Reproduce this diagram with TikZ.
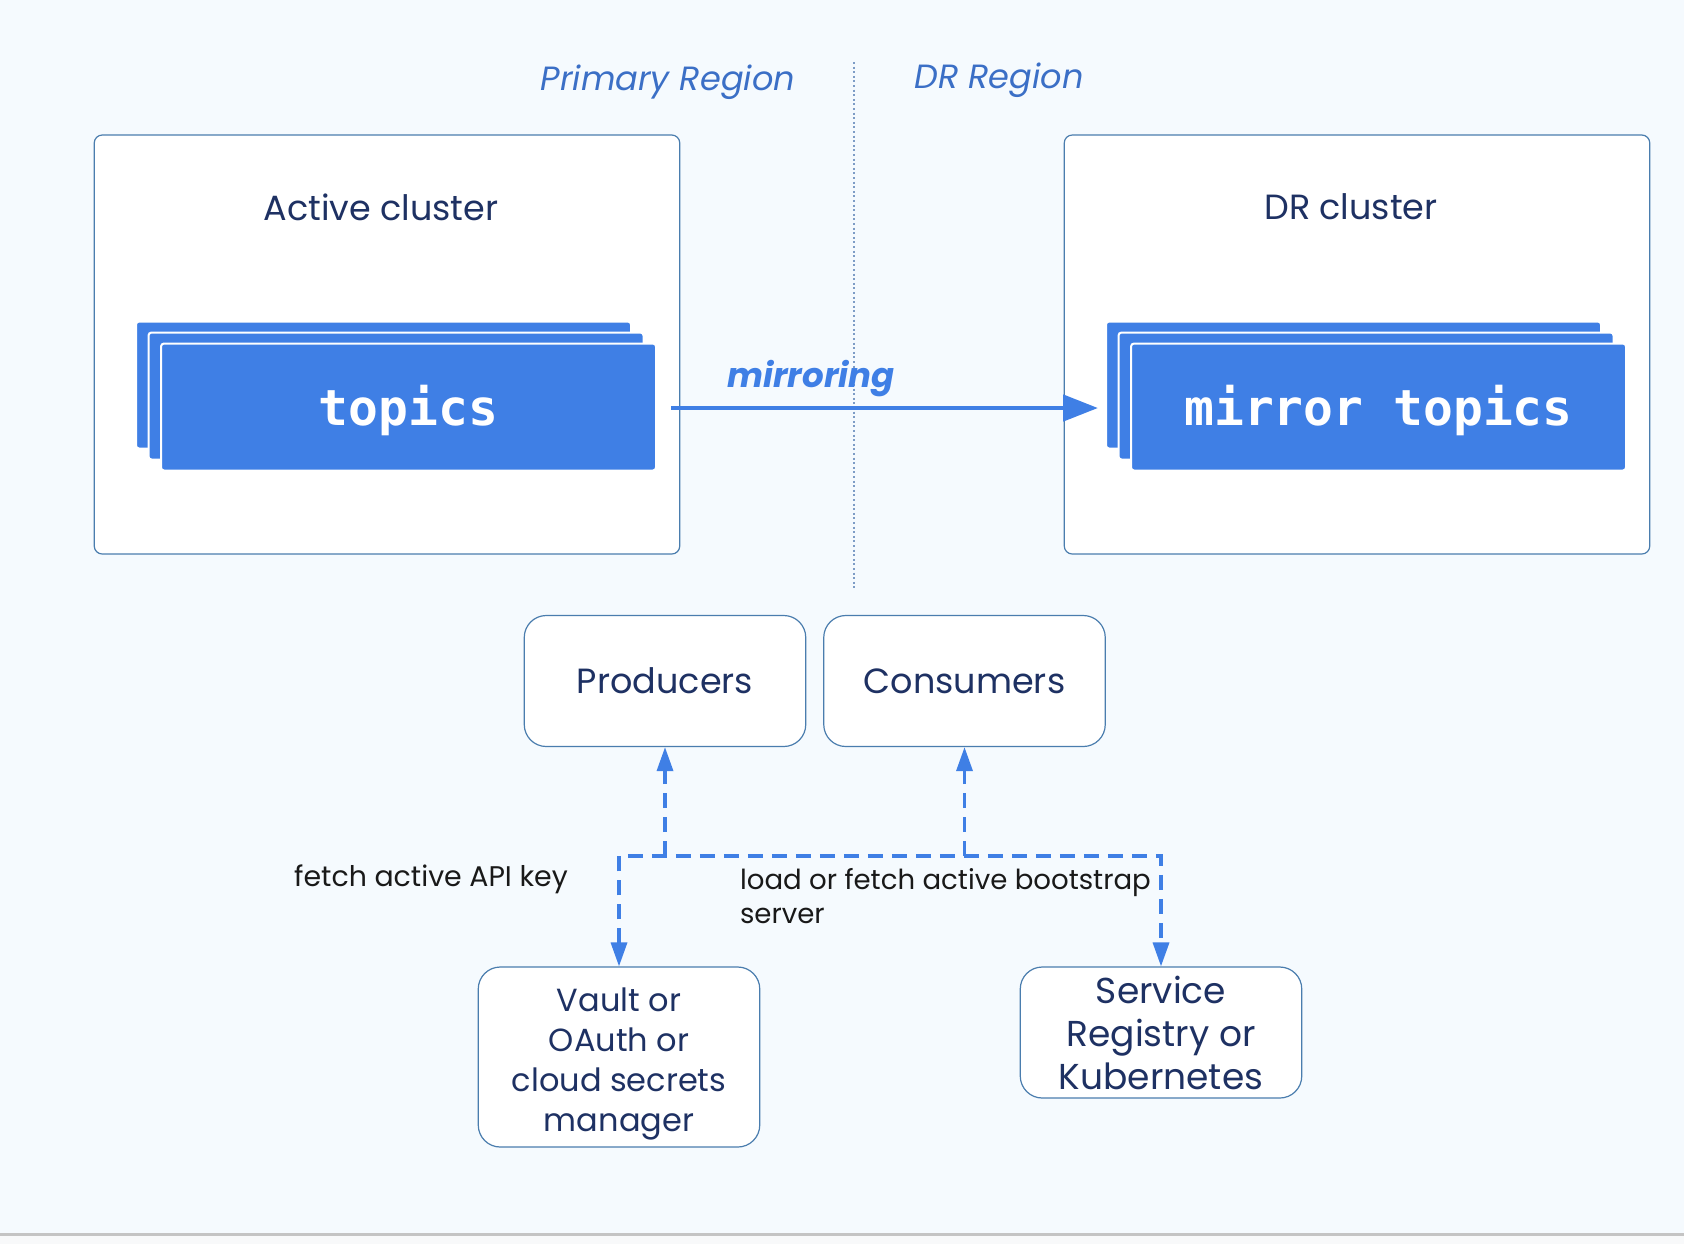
\documentclass[tikz,border=0pt]{standalone}
\usepackage{fontspec}
\setmainfont{Poppins}
\newfontfamily\monob{DejaVu Sans Mono}
\usetikzlibrary{arrows.meta}
\definecolor{bgc}{HTML}{F5FAFE}
\definecolor{bgb}{HTML}{F8F9FA}
\definecolor{rule}{HTML}{C4C4C4}
\definecolor{bdr}{HTML}{4A7DAE}
\definecolor{tblue}{HTML}{3F7FE5}
\definecolor{navy}{HTML}{1E3163}
\definecolor{region}{HTML}{3B6FC6}
\definecolor{dotc}{HTML}{7D9CC6}
\tikzset{
  cluster/.style={draw=bdr, line width=0.6pt, fill=white, rounded corners=4pt, minimum width=292.75pt, minimum height=209.5pt, inner sep=0pt},
  layer/.style={draw=white, line width=1pt, fill=tblue, rounded corners=1.5pt, minimum width=247.5pt, minimum height=63.5pt, inner sep=0pt},
  toptext/.style={text=white, font=\monob\bfseries\fontsize{24.8}{28}\selectfont},
  title/.style={text=navy, font=\fontsize{17.5}{21}\selectfont},
  appbox/.style={draw=bdr, line width=0.6pt, fill=white, rounded corners=11pt, minimum width=140.75pt, inner sep=0pt, align=center, text=navy, font=\fontsize{17.5}{21.5}\selectfont},
  regionlbl/.style={text=region, font=\itshape\fontsize{16.8}{20}\selectfont},
  lbl/.style={text=black!90, font=\fontsize{13.8}{17}\selectfont},
  dsh/.style={draw=tblue, line width=1.7pt, dash pattern=on 7.5pt off 4.5pt},
  dtip/.style={-{Triangle[length=12pt, width=8pt]}},
}
\begin{document}
\begin{tikzpicture}[x=0.5pt, y=-0.5pt]
\useasboundingbox (0,0) rectangle (1684,1244);
% background
\fill[bgc] (0,0) rectangle (1684,1233.5);
\fill[bgb] (0,1235.5) rectangle (1684,1244);
\draw[rule, line width=1.2pt] (0,1234.5) -- (1684,1234.5);

% region labels and divider
\node[regionlbl] (primary) at (668,82) {Primary Region};
\node[regionlbl] (drregion) at (999,80) {DR Region};
\coordinate (divtop) at (854,62);
\coordinate (divbot) at (854,589);

% clusters
\node[cluster] (active) at (387,344.5) {};
\node[cluster] (dr) at (1357,344.5) {};
\draw[dotc, line width=0.7pt, dash pattern=on 1pt off 1.3pt] (divtop) -- (divbot);
\node[title] (activet) at (381,207) {Active cluster};
\node[title] (drt) at (1351,207) {DR cluster};

% topics stacks
\node[layer] (t3) at (383.5,385) {};
\node[layer] (t2) at (396,396) {};
\node[layer] (t1) at (408.5,407) {};
\node[toptext] (ttext) at ([yshift=-1.6pt]t1.center) {topics};
\node[layer] (m3) at (1353.5,385) {};
\node[layer] (m2) at (1366,396) {};
\node[layer] (m1) at (1378.5,407) {};
\node[toptext] (mtext) at ([yshift=-1.6pt]m1.center) {mirror topics};

% mirroring arrow
\coordinate (ms) at (671,408);
\draw[tblue, line width=2.4pt, shorten >=3.5pt, -{Triangle[length=17.5pt, width=13pt]}] (ms) -- (ms -| m3.west);
\node[text=tblue, font=\bfseries\itshape\fontsize{17}{20}\selectfont] (mirr) at (811,379) {mirroring};

% apps
\node[appbox, minimum height=65.5pt] (prod) at (665,681) {Producers};
\node[appbox, minimum height=65.5pt] (cons) at (964.5,681) {Consumers};
\node[appbox, minimum height=90pt, font=\fontsize{16}{20}\selectfont] (vault) at (619,1057) {\rule{0pt}{18.5pt}Vault or\\OAuth or\\cloud secrets\\manager};
\node[appbox, minimum height=65.5pt, font=\fontsize{18}{21.5}\selectfont] (svc) at (1161,1032.5) {Service\\Registry or\\Kubernetes};

% dashed connectors
\coordinate (hl) at (619,856);
\coordinate (hr) at (1161,856);
\coordinate (hp) at (665,856);
\coordinate (hc) at (964.5,856);
\draw[dsh, {Triangle[length=12pt, width=8pt]}-{Triangle[length=12pt, width=8pt]}] (vault.north) -- (hl) -- (hr) -- (svc.north);
\draw[dsh, dtip] (hp) -- (prod.south);
\draw[dsh, dtip] (hc) -- (cons.south);

\node[lbl, font=\fontsize{14.2}{17}\selectfont] (fetchl) at (431,879) {fetch active API key};
\node[lbl, anchor=west, align=left] (loadl) at (733,896) {load or fetch active bootstrap\\server};
\end{tikzpicture}
\end{document}
